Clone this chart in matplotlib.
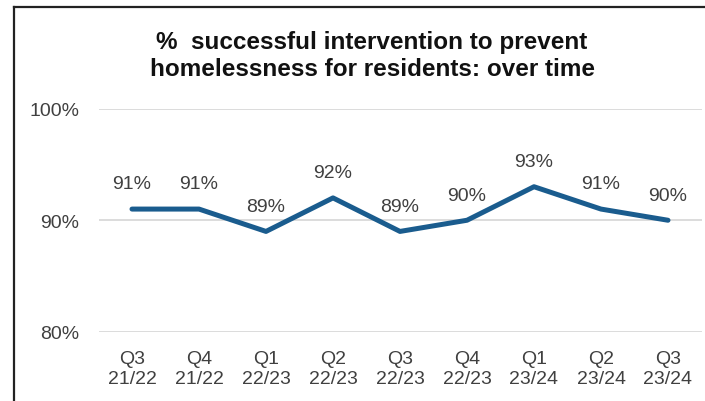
import matplotlib.pyplot as plt
from matplotlib.lines import Line2D

# Quarterly share of residents helped to avoid homelessness
quarters = ["Q3", "Q4", "Q1", "Q2", "Q3", "Q4", "Q1", "Q2", "Q3"]
years = ["21/22", "21/22", "22/23", "22/23", "22/23", "22/23", "23/24", "23/24", "23/24"]
success_pct = [91, 91, 89, 92, 89, 90, 93, 91, 90]
y_ticks = [80, 90, 100]

LINE_COLOUR = "#1a5c8e"
TEXT_COLOUR = "#404040"
W, H = 705, 402

plt.rcParams["font.family"] = ["Liberation Sans", "DejaVu Sans"]

fig = plt.figure(figsize=(W / 100, H / 100), dpi=100)
ax = fig.add_axes([98.5 / W, (H - 333) / H, 603 / W, 223.5 / H])

x = list(range(len(success_pct)))
ax.plot(x, success_pct, color=LINE_COLOUR, linewidth=3.6, solid_capstyle="round",
        solid_joinstyle="round", zorder=3)

for xi, val in zip(x, success_pct):
    ax.annotate(f"{val}%", (xi, val), xytext=(0, 12), textcoords="offset points",
                ha="center", va="bottom", fontsize=14, color=TEXT_COLOUR)

ax.set_xlim(-0.5, len(x) - 0.5)
ax.set_ylim(y_ticks[0], y_ticks[-1])
ax.set_yticks(y_ticks)
ax.set_yticklabels([f"{t}%" for t in y_ticks])
ax.set_xticks(x)
ax.set_xticklabels([f"{q}\n{y}" for q, y in zip(quarters, years)], linespacing=1.2)

ax.grid(axis="y", color="#d9d9d9", linewidth=1.3)
ax.set_axisbelow(True)
for side in ax.spines.values():
    side.set_visible(False)
ax.tick_params(axis="both", length=0, labelsize=14, labelcolor=TEXT_COLOUR)
ax.tick_params(axis="y", pad=14)
ax.tick_params(axis="x", pad=13)

fig.text(372 / W, 1 - 31 / H, "%  successful intervention to prevent\nhomelessness for residents: over time",
         ha="center", va="top", fontsize=17.5, fontweight="bold", color="#111111",
         linespacing=1.2)

# Chart border (left and top edges visible)
fig.add_artist(Line2D([14 / W, 14 / W], [0, 1 - 8 / H], transform=fig.transFigure,
                      color="#222222", linewidth=1.6))
fig.add_artist(Line2D([14 / W, 1], [1 - 8 / H, 1 - 8 / H], transform=fig.transFigure,
                      color="#222222", linewidth=1.6))

fig.savefig("out.png", dpi=100)
